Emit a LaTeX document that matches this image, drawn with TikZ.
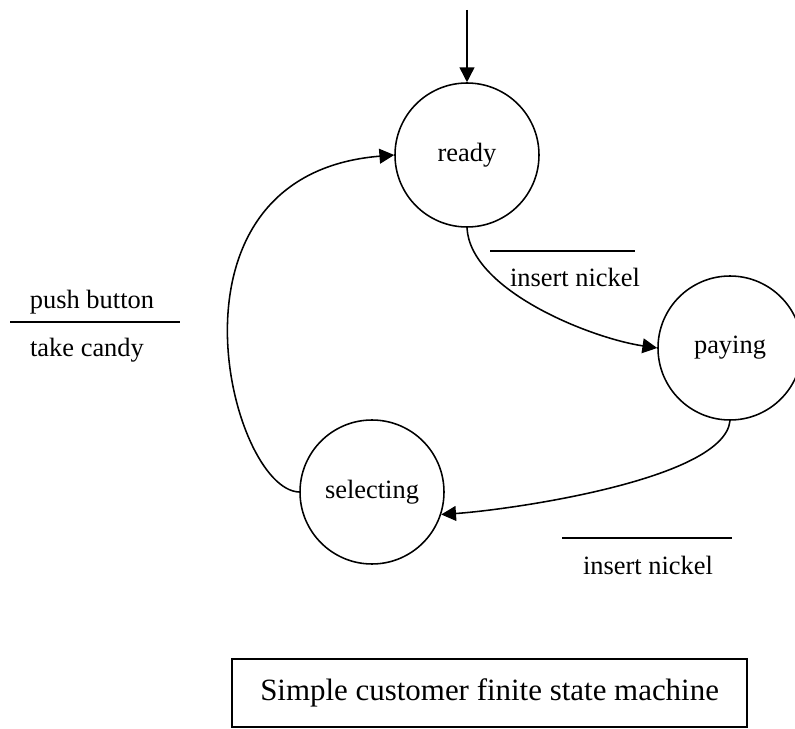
\documentclass[tikz,border=0pt]{standalone}
\usepackage{fontspec}
\setmainfont{Liberation Serif}
\usepackage{tikz}
\usetikzlibrary{arrows.meta,positioning}
\tikzset{
  stt/.style   = {draw, circle, minimum size=36mm, inner sep=0pt, line width=1.1pt,
                  font=\fontsize{18.8}{22}\selectfont},
  ar/.style    = {-{Triangle[length=3.7mm,width=3.7mm]}, line width=1.1pt},
  lbl/.style   = {font=\fontsize{18.8}{22}\selectfont, inner sep=1pt},
  bar/.style   = {line width=1.4pt},
  capbox/.style = {draw, line width=1.5pt, minimum width=128.75mm, minimum height=17mm,
                  font=\fontsize{22}{26}\selectfont}
}

\begin{document}
\begin{tikzpicture}[x=1cm, y=1cm]
\useasboundingbox (0,0) rectangle (19.875,18.2);

% ---- states ----
\node[stt] (ready) at (11.675,14.325) {ready};
\node[stt] (paying) at (18.25,9.5) {paying};
\node[stt] (sel) at (9.3,5.9) {selecting};

% ---- initial arrow ----
\coordinate (init) at (11.675,17.95);
\draw[ar] (init) -- (ready.north);

% ---- transitions ----
\draw[ar] (ready.south) .. controls (11.75,10.95) and (14.75,9.75) .. (paying.west);
\draw[ar] (paying.south) .. controls (18.1,6.2) and (12.7,5.45) .. (sel.-18);
\draw[ar] (sel.west) .. controls (5.75,5.95) and (3.75,13.825) .. (ready.west);

% ---- event / action labels ----
\draw[bar] (12.25,11.925) -- (15.875,11.925);
\node[lbl] (ev1) at (14.375,11.275) {insert nickel};

\node[lbl] (ev3) at (2.3,10.65) {push button};
\draw[bar] (0.25,10.15) -- (4.5,10.15);
\node[lbl] (act3) at (2.175,9.45) {take candy};

\draw[bar] (14.05,4.75) -- (18.3,4.75);
\node[lbl] (ev2) at (16.2,4.075) {insert nickel};

% ---- caption ----
\node[capbox] (cap) at (12.24,0.88) {Simple customer finite state machine};
\end{tikzpicture}
\end{document}
